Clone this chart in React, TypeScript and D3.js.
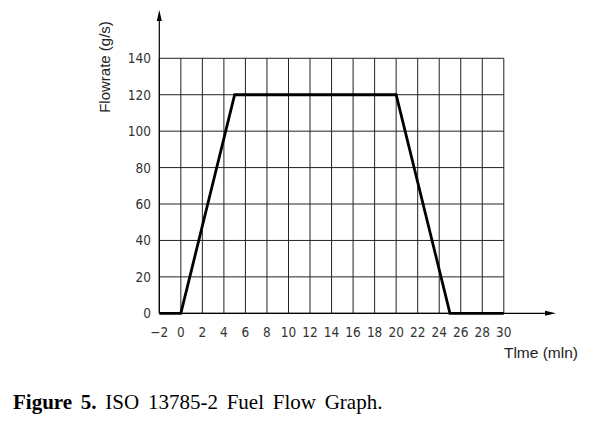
import React from 'react';
import * as d3 from 'd3';

const times = [-2, 0, 5, 20, 25, 30];
const flows = [0, 0, 120, 120, 0, 0];
const xTicks = [-2, 0, 2, 4, 6, 8, 10, 12, 14, 16, 18, 20, 22, 24, 26, 28, 30];
const yTicks = [0, 20, 40, 60, 80, 100, 120, 140];

const W = 600;
const H = 423;

export default function App() {
  const x = d3.scaleLinear().domain([-2, 30]).range([159.3, 503.8]);
  const y = d3.scaleLinear().domain([0, 140]).range([313.3, 58.3]);

  const pts = times.map((t, i) => [t, flows[i]] as [number, number]);
  const line = d3.line<[number, number]>().x(d => x(d[0])).y(d => y(d[1]));

  const tickFont = "'DejaVu Sans Condensed', 'DejaVu Sans', sans-serif";

  return (
    <svg width={W} height={H} style={{ position: 'absolute', left: 0, top: 0, background: '#fff' }}>
      {/* grid */}
      {xTicks.map(t => (
        <line key={'vx' + t} x1={x(t)} x2={x(t)} y1={y(140)} y2={y(0)} stroke="#222" strokeWidth={1} />
      ))}
      {yTicks.map(t => (
        <line key={'hy' + t} x1={x(-2)} x2={x(30)} y1={y(t)} y2={y(t)} stroke="#222" strokeWidth={1} />
      ))}

      {/* axes with arrows */}
      <line x1={x(-2)} x2={x(-2)} y1={y(0)} y2={16} stroke="#000" strokeWidth={1.2} />
      <path d={`M${x(-2)},10 L${x(-2) - 2.5},21 L${x(-2) + 2.5},21 Z`} fill="#000" />
      <line x1={x(-2)} x2={550} y1={y(0)} y2={y(0)} stroke="#000" strokeWidth={1.2} />
      <path d={`M556,${y(0)} L545,${y(0) - 2.5} L545,${y(0) + 2.5} Z`} fill="#000" />

      {/* data */}
      <path d={line(pts) || ''} fill="none" stroke="#000" strokeWidth={2.8} strokeLinejoin="miter" />

      {/* tick labels */}
      {yTicks.map(t => (
        <text key={'yl' + t} x={151} y={y(t) + 5} textAnchor="end" fontFamily={tickFont} fontSize={13.5} fill="#333">
          {t}
        </text>
      ))}
      {xTicks.map(t => (
        <text key={'xl' + t} x={x(t)} y={336.5} textAnchor="middle" fontFamily={tickFont} fontSize={13.5} fill="#333">
          {t < 0 ? '\u2212' + Math.abs(t) : t}
        </text>
      ))}

      {/* axis titles */}
      <text
        transform={`translate(110,67) rotate(-90)`}
        textAnchor="middle"
        fontFamily="'Liberation Sans', Arial, sans-serif"
        fontSize={15}
        fill="#222"
      >
        Flowrate (g/s)
      </text>
      <text x={578} y={358} textAnchor="end" fontFamily="'Liberation Sans', Arial, sans-serif" fontSize={15.5} fill="#222">
        Tlme (mln)
      </text>

      {/* caption */}
      <text x={13} y={409} fontFamily="'Liberation Serif', 'Times New Roman', serif" fontSize={21} fill="#000" wordSpacing={3.5}>
        <tspan fontWeight="bold">Figure 5.</tspan>
        <tspan> ISO 13785-2 Fuel Flow Graph.</tspan>
      </text>
    </svg>
  );
}
